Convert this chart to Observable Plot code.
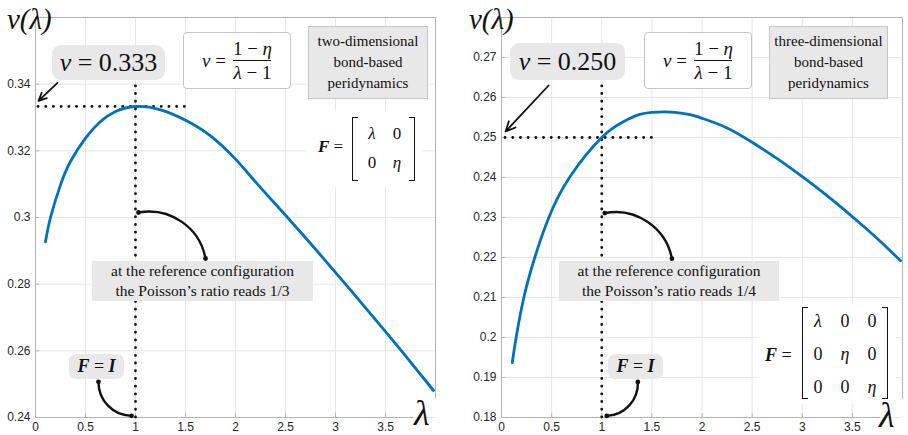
<!DOCTYPE html>
<html><head><meta charset="utf-8">
<script src="https://cdn.jsdelivr.net/npm/d3@7"></script>
<script src="https://cdn.jsdelivr.net/npm/@observablehq/plot@0.6"></script>
<style>
body{margin:0;background:#fff}
#wrap{position:relative;width:908px;height:435px;overflow:hidden;background:#fff}
#wrap svg{position:absolute;top:0}
.a{position:absolute;font-family:"Liberation Serif","DejaVu Serif",serif;color:#111;box-sizing:border-box;white-space:nowrap;z-index:2}
.i{font-style:italic}
.b{font-weight:bold;font-style:italic}
.round{background:#e8e8e8;border-radius:9px;display:flex;align-items:center;justify-content:center}
.fbox{background:#fff;border:1.3px solid #c4c4c4;border-radius:4px;display:flex;align-items:center;justify-content:center;font-size:19px}
.frac{display:inline-flex;flex-direction:column;align-items:center;margin-left:7px;line-height:23px}
.frac .den{border-top:1.3px solid #111}
.gbox{background:#e8e8e8;border:1.3px solid #c6c6c6;display:flex;align-items:center;justify-content:center;text-align:center;font-size:15px;line-height:21px}
.rbox{background:#e8e8e8;display:flex;align-items:center;justify-content:center;text-align:center;font-size:15.5px;line-height:20px}
.mat{display:grid;font-size:17px;text-align:center;line-height:20px}
.mat::before,.mat::after{content:"";position:absolute;top:0;bottom:0;width:5px;border:1.4px solid #111}
.mat::before{left:0;border-right:none}
.mat::after{right:0;border-left:none}
</style>
</head><body>
<div id="wrap"></div>
<script>
// ---- data: two-dimensional bond-based peridynamics ----
const lam2 = [0.10, 0.15, 0.25, 0.35, 0.50, 0.65, 0.80, 1.00, 1.25, 1.50, 1.75, 2.00, 2.22, 2.52, 2.82, 3.10, 3.37, 3.67, 3.98];
const nu2  = [0.2927, 0.3000, 0.3098, 0.3168, 0.3238, 0.3288, 0.3318, 0.3333, 0.3323, 0.3292, 0.3245, 0.3175, 0.3100, 0.3000, 0.2898, 0.2800, 0.2704, 0.2596, 0.2481];
// ---- data: three-dimensional bond-based peridynamics ----
const lam3 = [0.107, 0.146, 0.223, 0.332, 0.472, 0.678, 1.00, 1.22, 1.37, 1.50, 1.62, 1.73, 1.88, 2.00, 2.25, 2.50, 2.75, 3.00, 3.25, 3.50, 3.75, 3.98];
const nu3  = [0.1937, 0.2000, 0.2100, 0.2200, 0.2300, 0.2400, 0.2500, 0.2540, 0.2557, 0.2563, 0.2564, 0.2563, 0.2557, 0.2548, 0.2524, 0.2488, 0.2447, 0.2402, 0.2354, 0.2302, 0.2247, 0.2192];
// ---- ticks ----
const xTicks = [0, 0.5, 1, 1.5, 2, 2.5, 3, 3.5];
const yTicks2 = [0.24, 0.26, 0.28, 0.30, 0.32, 0.34];
const yTicks3 = [0.18, 0.19, 0.20, 0.21, 0.22, 0.23, 0.24, 0.25, 0.26, 0.27];
// ---- annotation anchors (data units) ----
const ref2 = 1/3, ref3 = 0.25;
const arrow2 = [{x1: 0.22, y1: 0.3404, x2: 0.03, y2: 0.3350}];
const arrow3 = [{x1: 0.47, y1: 0.2630, x2: 0.04, y2: 0.2515}];
const curveA2 = [{x1: 1.03, y1: 0.3015, x2: 1.70, y2: 0.2877}];
const curveB2 = [{x1: 0.63, y1: 0.2507, x2: 0.96, y2: 0.2405}];
const curveA3 = [{x1: 1.03, y1: 0.2311, x2: 1.70, y2: 0.2197}];
const curveB3 = [{x1: 1.36, y1: 0.1889, x2: 1.05, y2: 0.1804}];

const blue = "#0072BD", frameC = "#b4b4b4", gridC = "#e6e6e6";
const fmt = d3.format("~g");

function panel(o) {
  const data = o.lam.map((l, i) => ({l, v: o.nu[i]}));
  const [y0, y1] = o.yDomain;
  const ends = [...o.curveA, ...o.curveB].flatMap(d => [{x: d.x1, y: d.y1}, {x: d.x2, y: d.y2}]);
  return Plot.plot({
    width: o.width, height: 435,
    marginTop: 17, marginBottom: 18, marginLeft: o.marginLeft, marginRight: o.marginRight,
    x: {domain: [0, 4]}, y: {domain: o.yDomain},
    style: {fontFamily: "'Liberation Sans', Arial, sans-serif", fontSize: "12px", color: "#262626", background: "transparent", overflow: "visible"},
    marks: [
      Plot.gridX(xTicks, {stroke: gridC, strokeOpacity: 1, y1: y0, y2: y1}),
      Plot.gridY(o.yTicks, {stroke: gridC, strokeOpacity: 1, x1: 0, x2: 4}),
      Plot.ruleX([0], {y1: y0, y2: y1, stroke: frameC}),
      Plot.ruleY([y1], {x1: 0, x2: 4, stroke: frameC}),
      Plot.ruleX([4], {y1: o.rightEnd, y2: y1, stroke: frameC}),
      Plot.ruleY([y0], {x1: 0, x2: 3.78, stroke: frameC}),
      Plot.ruleX(xTicks, {y1: y0, y2: y0, insetTop: -4, stroke: frameC}),
      Plot.ruleY(o.yTicks, {x1: 0, x2: 0, insetRight: -4, stroke: frameC}),
      Plot.axisX(xTicks, {tickSize: 0, tickPadding: 5, tickFormat: fmt, label: null}),
      Plot.axisY(o.yTicks, {tickSize: 0, tickPadding: 5, tickFormat: fmt, label: null}),
      Plot.ruleY([o.ref], {x1: o.arrow[0].x2, x2: 1.53, stroke: "#111", strokeWidth: 2.8, strokeDasharray: "0.1,7.6", strokeLinecap: "round"}),
      Plot.ruleX([1], {y1: y0, y2: o.vTop, stroke: "#111", strokeWidth: 2.8, strokeDasharray: "0.1,7.6", strokeLinecap: "round"}),
      Plot.line(data, {x: "l", y: "v", stroke: blue, strokeWidth: 2.8, curve: "natural"}),
      Plot.arrow(o.arrow, {x1: "x1", y1: "y1", x2: "x2", y2: "y2", stroke: "#111", strokeWidth: 1.8, headLength: 9, headAngle: 50}),
      Plot.arrow(o.curveA, {x1: "x1", y1: "y1", x2: "x2", y2: "y2", stroke: "#111", strokeWidth: 2.4, headLength: 0, bend: 45}),
      Plot.arrow(o.curveB, {x1: "x1", y1: "y1", x2: "x2", y2: "y2", stroke: "#111", strokeWidth: 2.4, headLength: 0, bend: o.bendB}),
      Plot.dot(ends, {x: "x", y: "y", r: 2.4, fill: "#111", stroke: "none"})
    ]
  });
}

const wrap = document.getElementById("wrap");
const p1 = panel({lam: lam2, nu: nu2, yDomain: [0.24, 0.36], yTicks: yTicks2, ref: ref2, vTop: 0.34, rightEnd: 0.2455,
  arrow: arrow2, curveA: curveA2, curveB: curveB2, bendB: -45, width: 450, marginLeft: 35, marginRight: 15});
p1.style.left = "0px";
const p2 = panel({lam: lam3, nu: nu3, yDomain: [0.18, 0.28], yTicks: yTicks3, ref: ref3, vTop: 0.263, rightEnd: 0.1845,
  arrow: arrow3, curveA: curveA3, curveB: curveB3, bendB: 45, width: 458, marginLeft: 51, marginRight: 6});
p2.style.left = "450px";
wrap.appendChild(p1);
wrap.appendChild(p2);

function add(html) { wrap.insertAdjacentHTML("beforeend", html); }
function frac(left, top) {
  add(`<div class="a fbox" style="left:${left}px;top:${top}px;width:108px;height:57px"><span class="i">ν</span>&nbsp;=<span class="frac"><span>1 − <span class="i">η</span></span><span class="den"><span class="i">λ</span> − 1</span></span></div>`);
}
function matrix(o) {
  add(`<div class="a" style="left:${o.bgL}px;top:${o.bgT}px;width:${o.bgW}px;height:${o.bgH}px;background:#fff"></div>`);
  add(`<div class="a" style="left:${o.fL}px;top:${o.fT}px;font-size:${o.fs}px"><span class="b">F</span> =</div>`);
  const cells = o.cells.map(c => `<span${c === "0" ? "" : ' class="i"'}>${c}</span>`).join("");
  add(`<div class="a mat" style="left:${o.L}px;top:${o.T}px;font-size:${o.fs}px;grid-template-columns:repeat(${o.n},12px);column-gap:${o.cg}px;row-gap:${o.rg}px;padding:${o.pad}">${cells}</div>`);
}

// left panel text
add(`<div class="a i" style="left:7px;top:3px;font-size:29px">ν(λ)</div>`);
add(`<div class="a round" style="left:52px;top:45px;width:113px;height:35px;font-size:26px"><span class="i">ν</span>&nbsp;=&nbsp;0.333</div>`);
frac(183, 32);
add(`<div class="a gbox" style="left:308px;top:26px;width:120px;height:73px">two-dimensional<br>bond-based<br>peridynamics</div>`);
matrix({bgL: 307, bgT: 111, bgW: 116, bgH: 76, fL: 318, fT: 137, fs: 17, L: 352, T: 117, n: 2, cg: 13, rg: 9, pad: "7px 12px 8px 14px", cells: ["λ", "0", "0", "η"]});
add(`<div class="a rbox" style="left:92px;top:261px;width:221px;height:40px">at the reference configuration<br>the Poisson’s ratio reads 1/3</div>`);
add(`<div class="a round" style="left:69px;top:354px;width:55px;height:25px;font-size:18px;border-radius:7px"><span class="b">F</span>&nbsp;=&nbsp;<span class="b">I</span></div>`);
add(`<div class="a i" style="left:414px;top:392px;font-size:36px">λ</div>`);

// right panel text
add(`<div class="a i" style="left:469px;top:3px;font-size:29px">ν(λ)</div>`);
add(`<div class="a round" style="left:510px;top:43px;width:115px;height:37px;font-size:26px"><span class="i">ν</span>&nbsp;=&nbsp;0.250</div>`);
frac(644, 32);
add(`<div class="a gbox" style="left:769px;top:26px;width:119px;height:73px">three-dimensional<br>bond-based<br>peridynamics</div>`);
matrix({bgL: 758, bgT: 304, bgW: 138, bgH: 100, fL: 765, fT: 345, fs: 18, L: 802, T: 307, n: 3, cg: 15, rg: 13, pad: "4px 10px 2px 10px", cells: ["λ", "0", "0", "0", "η", "0", "0", "0", "η"]});
add(`<div class="a rbox" style="left:559px;top:261px;width:220px;height:40px">at the reference configuration<br>the Poisson’s ratio reads 1/4</div>`);
add(`<div class="a round" style="left:608px;top:354px;width:55px;height:25px;font-size:18px;border-radius:7px"><span class="b">F</span>&nbsp;=&nbsp;<span class="b">I</span></div>`);
add(`<div class="a i" style="left:879px;top:394px;font-size:36px">λ</div>`);
</script>
</body></html>
